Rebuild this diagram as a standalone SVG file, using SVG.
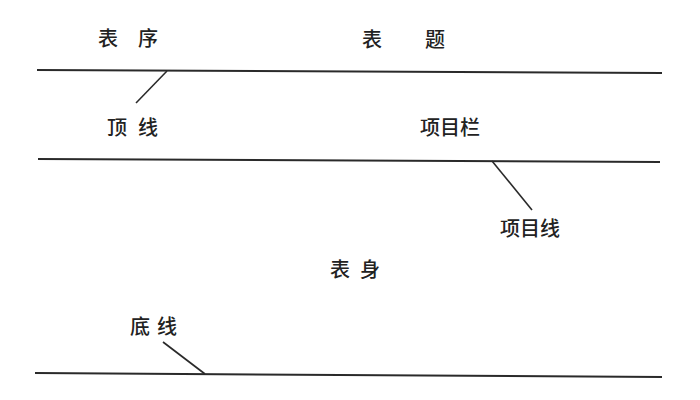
<svg xmlns="http://www.w3.org/2000/svg" width="700" height="400" viewBox="0 0 700 400">
<style>
  .lbl { font-family: "Noto Sans CJK SC", "Noto Sans", sans-serif; font-size: 20px; font-weight: 500; fill: #222; dominant-baseline: central; }
  .rule { stroke: #2a2a2a; stroke-width: 2; fill: none; }
  .lead { stroke: #2a2a2a; stroke-width: 1.6; fill: none; }
</style>
<rect width="700" height="400" fill="#ffffff"/>
<g id="rules">
  <line class="rule" x1="37" y1="70" x2="662" y2="73"/>
  <line class="rule" x1="38" y1="159" x2="660" y2="162"/>
  <line class="rule" x1="35" y1="373" x2="662" y2="377"/>
</g>
<g id="node-biaoxu"><text class="lbl" x="98" y="37">表<tspan x="138">序</tspan></text></g>
<g id="node-biaoti"><text class="lbl" x="362" y="38">表<tspan x="425">题</tspan></text></g>
<g id="node-dingxian"><text class="lbl" x="107" y="126">顶<tspan x="138">线</tspan></text></g>
<g id="node-xiangmulan"><text class="lbl" x="420" y="126">项目栏</text></g>
<g id="node-xiangmuxian"><text class="lbl" x="500" y="227">项目线</text></g>
<g id="node-biaoshen"><text class="lbl" x="330" y="268">表<tspan x="360">身</tspan></text></g>
<g id="node-dixian"><text class="lbl" x="130" y="325">底<tspan x="157">线</tspan></text></g>
<g id="connectors">
  <line class="lead" x1="167" y1="71" x2="136" y2="103"/>
  <line class="lead" x1="492" y1="161" x2="532" y2="210"/>
  <line class="lead" x1="163" y1="342" x2="205" y2="374"/>
</g>
</svg>
